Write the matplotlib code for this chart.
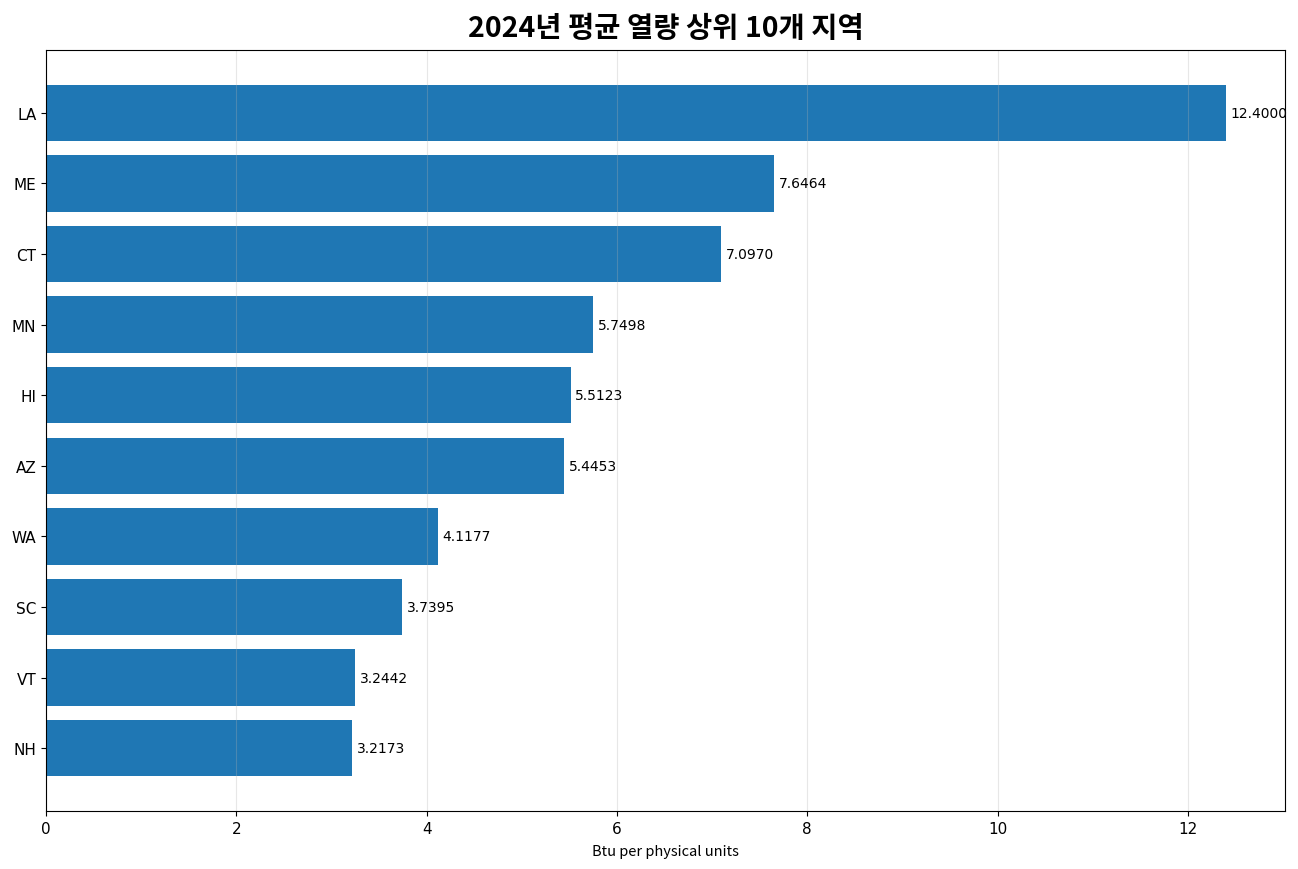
import matplotlib
matplotlib.use('Agg')
import matplotlib.pyplot as plt

# 데이터
regions = ['LA', 'ME', 'CT', 'MN', 'HI', 'AZ', 'WA', 'SC', 'VT', 'NH']
values = [12.4000, 7.6464, 7.0970, 5.7498, 5.5123, 5.4453, 4.1177, 3.7395, 3.2442, 3.2173]

title = '2024년 평균 열량 상위 10개 지역'
xlabel = 'Btu per physical units'

plt.rcParams['font.family'] = ['DejaVu Sans', 'Noto Sans CJK KR']

fig = plt.figure(figsize=(12.98, 8.7), dpi=100)
ax = fig.add_axes([46 / 1298, 1 - 812 / 870, (1285 - 46) / 1298, (812 - 51) / 870])

ax.barh(regions, values, color='#1f77b4', height=0.8)
ax.invert_yaxis()

for i, v in enumerate(values):
    ax.text(v + 0.05, i, f'{v:.4f}', va='center', ha='left', fontsize=10)

ax.set_xlim(0, max(values) * 1.05)
ax.grid(axis='x', alpha=0.3)
ax.set_xlabel(xlabel, family=['Noto Sans CJK KR', 'DejaVu Sans'], fontsize=10.5,
              labelpad=6)
ax.set_title(title, family=['Noto Sans CJK KR', 'DejaVu Sans'], fontsize=20.5,
             fontweight='bold', pad=10)
ax.tick_params(labelsize=11)

fig.savefig('out.png', dpi=100)
